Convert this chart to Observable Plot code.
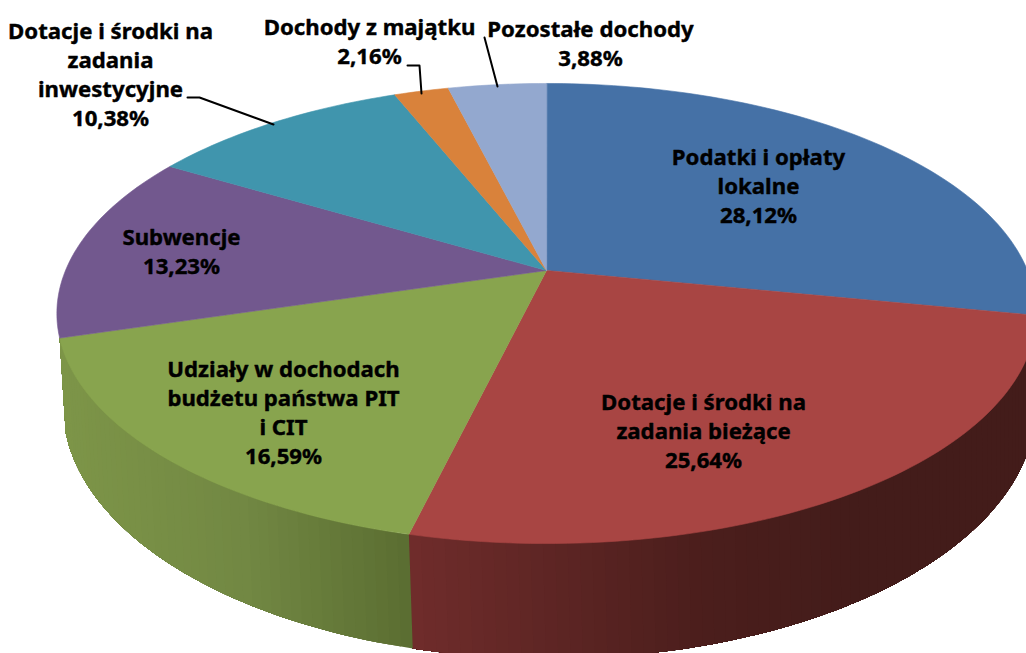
<!DOCTYPE html>
<html><head><meta charset="utf-8">
<script src="https://cdn.jsdelivr.net/npm/d3@7"></script>
<script src="https://cdn.jsdelivr.net/npm/@observablehq/plot@0.6"></script>
<style>html,body{margin:0;padding:0;background:#fff;overflow:hidden}svg{display:block}</style>
</head><body><div id="c"></div>
<script>
const labels = ["Podatki i opłaty\nlokalne","Dotacje i środki na\nzadania bieżące","Udziały w dochodach\nbudżetu państwa PIT\ni CIT","Subwencje","Dotacje i środki na\nzadania\ninwestycyjne","Dochody z majątku","Pozostałe dochody"];
const shares = [28.12,25.64,16.59,13.23,10.38,2.16,3.88];
const colors = ["#4571a6","#a84543","#88a44e","#72588e","#4095ad","#d9823b","#93a8cf"];
const labelX = [758,703,283,181,110,369,590];
const labelY = [184,429.5,410.5,249.5,73,39.5,41.5];
const leaders = [[[187,97],[199,97],[273,124]],[[407,65],[419,65],[421,93]],[[484,37],[497,86]]];
const wallStops = {1:[[412,"#6f2c2b"],[700,"#4b1e1c"],[860,"#431c1a"],[1030,"#431c1a"]],2:[[60,"#7d9548"],[240,"#728843"],[412,"#5a6d31"]]};
const topRim = {ax:546,ay:270,a:481,b:222,p:0.187};
const lowRim = {ax:549,ay:358,a:478,b:244,p:0.187};

const rim = (r,t)=>{const s=Math.sin(t),c=Math.cos(t),d=1+r.p*c;return [r.ax+r.a*s/d, r.ay-r.b*c/d];};
const rad = v=>v*3.6*Math.PI/180;
const poly=[], wall=[];
let cum=0;
shares.forEach((v,i)=>{
  const t0=rad(cum), t1=rad(cum+v); cum+=v;
  const n=Math.ceil(v*3);
  const ts=d3.range(n+1).map(k=>t0+(t1-t0)*k/n);
  if(wallStops[i]){
    const st=wallStops[i];
    const col=d3.scaleLinear().domain(st.map(d=>d[0])).range(st.map(d=>d[1])).interpolate(d3.interpolateRgb).clamp(true);
    for(let k=0;k<n;k++){
      // each band runs on to the slice's far end, so later bands paint over without seams
      const f=col((rim(topRim,ts[k])[0]+rim(topRim,ts[k+1])[0])/2),id=i+"-"+k;
      const tt=ts.slice(k);
      tt.forEach(t=>{const p=rim(topRim,t);wall.push({id,x:p[0],y:p[1],f});});
      tt.slice().reverse().forEach(t=>{const p=rim(lowRim,t);wall.push({id,x:p[0],y:p[1],f});});
    }
  }
  const f=colors[i],id="s"+i;
  poly.push({id,x:topRim.ax,y:topRim.ay,f});
  ts.forEach(t=>{const p=rim(topRim,t);poly.push({id,x:p[0],y:p[1],f});});
});
const ltxt=labels.map((l,i)=>({t:l+"\n"+shares[i].toFixed(2).replace(".",",")+"%",x:labelX[i],y:labelY[i]}));
const lead=leaders.flatMap((l,i)=>l.map(p=>({id:i,x:p[0],y:p[1]})));
const shape=(data,w)=>Plot.line(data,{x:"x",y:"y",z:"id",fill:{value:"f",scale:null},stroke:{value:"f",scale:null},strokeWidth:w,curve:"linear-closed",clip:"frame"});
const fig=Plot.plot({width:1026,height:653,margin:0,
  x:{domain:[0,1026],range:[0,1026],axis:null},
  y:{domain:[0,653],range:[0,653],axis:null},
  marks:[
    shape(wall,0),shape(poly,0.6),
    Plot.line(lead,{x:"x",y:"y",z:"id",stroke:"#000",strokeWidth:2,curve:"linear"}),
    Plot.text(ltxt,{x:"x",y:"y",text:"t",fontFamily:"Noto Sans",fontWeight:700,fontSize:22.2,lineHeight:1.3,fill:"#000",stroke:"#000",strokeWidth:0.4,lineAnchor:"middle",textAnchor:"middle"})
  ]});
document.getElementById("c").appendChild(fig);
</script></body></html>
